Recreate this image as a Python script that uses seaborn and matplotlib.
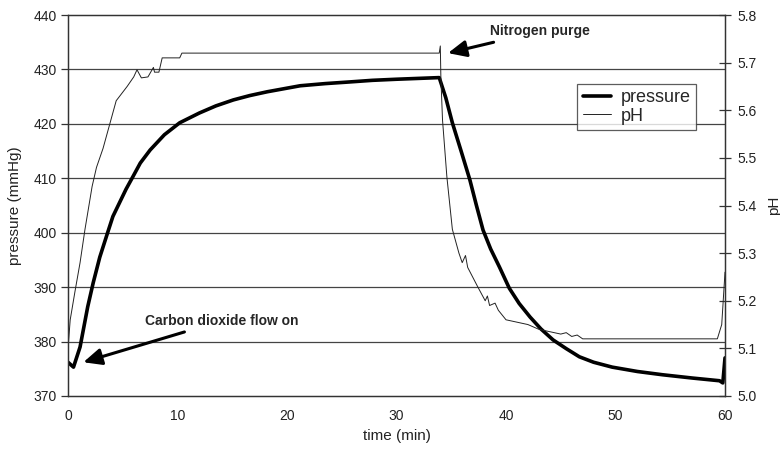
import numpy as np
import pandas as pd
import seaborn as sns
import matplotlib.pyplot as plt

# pressure trace (mmHg)
p_time = [0, 0.5, 1.1, 1.8, 2.3, 2.9, 3.6, 4.1, 4.7, 5.3, 5.9, 6.6, 7.5, 8.8, 10.2, 12.0,
          13.5, 15.1, 16.6, 18.2, 21.2, 23.5, 25.7, 27.8, 30.0, 33.9, 34.5, 35.1, 35.9,
          36.7, 37.3, 37.9, 38.6, 39.4, 40.3, 41.2, 42.2, 43.2, 44.3, 45.5, 46.7, 48.0,
          49.7, 52.0, 54.3, 57.0, 59.5, 59.8, 60.0]
pressure = [376.2, 375.3, 379.0, 386.4, 390.8, 395.5, 399.9, 403.0, 405.5, 408.0, 410.2,
            412.8, 415.2, 418.0, 420.2, 422.0, 423.3, 424.4, 425.2, 425.9, 427.0, 427.4,
            427.7, 428.0, 428.2, 428.5, 424.8, 420.2, 415.0, 409.7, 405.0, 400.5, 397.0,
            393.7, 389.8, 387.0, 384.5, 382.3, 380.3, 378.7, 377.2, 376.2, 375.3, 374.5,
            373.9, 373.3, 372.8, 372.4, 377.0]

# pH trace
ph_time = [0, 0.2, 0.64, 1.1, 1.55, 2.2, 2.6, 3.2, 3.8, 4.4, 5.4, 6.0, 6.3, 6.7, 7.3, 7.8,
           7.9, 8.3, 8.6, 10.2, 10.4, 33.9, 34.0, 34.05, 34.2, 34.6, 35.1, 35.7, 36.0, 36.3,
           36.5, 37.4, 38.1, 38.3, 38.5, 39.0, 39.3, 40.0, 41.0, 42.0, 43.0, 44.0, 45.0,
           45.5, 46.0, 46.5, 47.0, 59.3, 59.7, 60.0]
ph = [5.10, 5.16, 5.22, 5.28, 5.35, 5.44, 5.48, 5.52, 5.57, 5.62, 5.65, 5.67, 5.685, 5.668,
      5.67, 5.69, 5.68, 5.68, 5.71, 5.71, 5.72, 5.72, 5.735, 5.67, 5.58, 5.46, 5.35, 5.30,
      5.28, 5.295, 5.27, 5.23, 5.20, 5.21, 5.19, 5.195, 5.18, 5.16, 5.155, 5.15, 5.14, 5.135,
      5.13, 5.133, 5.125, 5.128, 5.12, 5.12, 5.15, 5.26]

x_ticks = [0, 10, 20, 30, 40, 50, 60]
p_ticks = [370, 380, 390, 400, 410, 420, 430, 440]
ph_ticks = [5.0, 5.1, 5.2, 5.3, 5.4, 5.5, 5.6, 5.7, 5.8]

df_p = pd.DataFrame({"time": p_time, "pressure": pressure})
df_ph = pd.DataFrame({"time": ph_time, "pH": ph})

sns.set_theme(style="white")
plt.rcParams["font.family"] = ["Liberation Sans", "DejaVu Sans"]

fig = plt.figure(figsize=(7.8, 4.55), dpi=100)
ax = fig.add_axes([0.0872, 0.1297, 0.8423, 0.8373])
ax2 = ax.twinx()

sns.lineplot(data=df_p, x="time", y="pressure", ax=ax, color="black", lw=2.6,
             label="pressure", legend=False)
sns.lineplot(data=df_ph, x="time", y="pH", ax=ax2, color="#222222", lw=0.7,
             label="pH", legend=False)

ax.set_xlim(0, 60)
ax.set_ylim(370, 440)
ax2.set_ylim(5.0, 5.8)
ax.set_xticks(x_ticks)
ax.set_yticks(p_ticks)
ax2.set_yticks(ph_ticks)
ax2.set_yticklabels([f"{v:.1f}" for v in ph_ticks])

# horizontal gridlines on the pressure scale
for v in p_ticks[1:-1]:
    ax.axhline(v, color="#444444", lw=0.9, zorder=0)

for a in (ax, ax2):
    for s in a.spines.values():
        s.set_color("#333333")
        s.set_linewidth(0.9)

ax.tick_params(axis="x", direction="inout", length=7, width=0.9, colors="#333333",
               labelsize=10, labelcolor="#222222", pad=6)
ax.tick_params(axis="y", direction="out", length=5, width=0.9, colors="#333333",
               labelsize=10, labelcolor="#222222", pad=3)
ax2.tick_params(axis="y", direction="inout", length=8, width=0.9, colors="#333333",
                labelsize=10, labelcolor="#222222", pad=5)

ax.set_xlabel("time (min)", fontsize=11, color="#222222", labelpad=4)
ax.set_ylabel("pressure (mmHg)", fontsize=11, color="#222222", labelpad=8)
ax2.set_ylabel("pH", fontsize=11, color="#222222", labelpad=7)

ann_font = ["Liberation Sans Narrow", "Liberation Sans", "DejaVu Sans"]
ax.annotate("Nitrogen purge", xy=(34.7, 433.0), xytext=(38.5, 437.0),
            fontsize=10, family=ann_font, weight="bold", va="center", ha="left",
            arrowprops=dict(arrowstyle="-|>,head_length=1.1,head_width=0.5",
                            color="black", lw=2.2, shrinkA=2, shrinkB=0))
ax.annotate("Carbon dioxide flow on", xy=(1.4, 376.2), xytext=(7.0, 383.8),
            fontsize=10, family=ann_font, weight="bold", va="center", ha="left",
            arrowprops=dict(arrowstyle="-|>,head_length=1.1,head_width=0.5",
                            color="black", lw=2.2, shrinkA=2, shrinkB=0))

h1, l1 = ax.get_legend_handles_labels()
h2, l2 = ax2.get_legend_handles_labels()
leg = ax2.legend(h1 + h2, l1 + l2, loc="upper left", bbox_to_anchor=(0.775, 0.82),
                 fontsize=13, frameon=True, fancybox=False, handlelength=1.6,
                 borderpad=0.3, labelspacing=0.1, handletextpad=0.5, borderaxespad=0)
leg.get_frame().set_edgecolor("#333333")
leg.get_frame().set_linewidth(0.9)

fig.savefig("out.png", dpi=100)
